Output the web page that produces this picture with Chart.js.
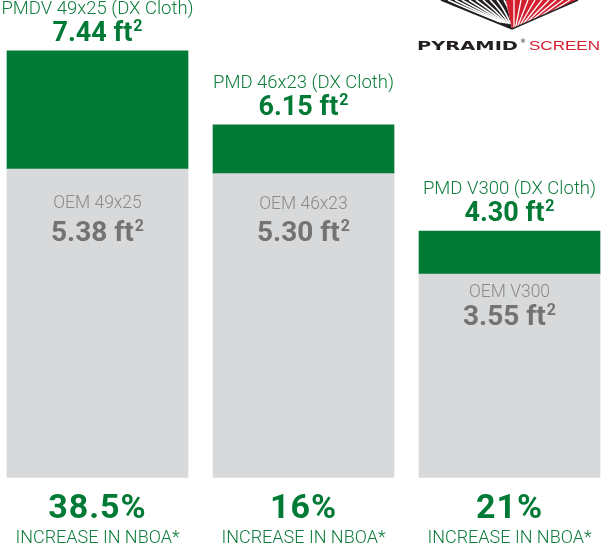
<!DOCTYPE html>
<html><head><meta charset="utf-8">
<script src="https://cdn.jsdelivr.net/npm/chart.js@4"></script>
<style>html,body{margin:0;padding:0;background:#fff;overflow:hidden}canvas{display:block}</style>
</head><body>
<canvas id="c" width="602" height="548"></canvas>
<script>
// ---- data ----
const positions = [0, 1, 2];
const pmdNames = ['PMDV 49x25 (DX Cloth)', 'PMD 46x23 (DX Cloth)', 'PMD V300 (DX Cloth)'];
const oemNames = ['OEM 49x25', 'OEM 46x23', 'OEM V300'];
const pmdArea = [7.44, 6.15, 4.30];
const oemArea = [5.38, 5.30, 3.55];
const increaseLabels = ['38.5%', '16%', '21%'];
const increaseCaption = 'INCREASE IN NBOA*';

// ---- style ----
const GREEN = '#017a36';
const GREEN_TXT = '#0f7d3c';
const GREY_BAR = '#d8d9da';
const GREY_LBL = '#8a8a8a';
const GREY_VAL = '#737373';
const oemLabelOffset = [39, 35, 23];
const oemValueOffset = [72, 67, 51];

function drawArea(ctx, txt, cx, baseline, size, supSize, color) {
  ctx.font = '700 ' + size + 'px Roboto';
  const w1 = ctx.measureText(txt).width;
  ctx.font = '700 ' + supSize + 'px Roboto';
  const w2 = ctx.measureText('2').width;
  const start = cx - (w1 + w2 + 1) / 2;
  ctx.fillStyle = color;
  ctx.textAlign = 'left';
  ctx.font = '700 ' + size + 'px Roboto';
  ctx.fillText(txt, start, baseline);
  ctx.font = '700 ' + supSize + 'px Roboto';
  ctx.fillText('2', start + w1 + 1, baseline - size * 0.36);
}

const labelPlugin = {
  id: 'labels',
  afterDatasetsDraw(chart) {
    const ctx = chart.ctx;
    const grey = chart.getDatasetMeta(0).data;
    const green = chart.getDatasetMeta(1).data;
    const bottom = chart.chartArea.bottom;
    ctx.save();
    ctx.textBaseline = 'alphabetic';
    positions.forEach((p, i) => {
      const x = green[i].x;
      const gTop = green[i].y;
      const oTop = grey[i].y;
      ctx.textAlign = 'center';
      ctx.fillStyle = GREEN_TXT;
      ctx.font = '300 18.5px Roboto';
      ctx.fillText(pmdNames[i], x, gTop - 37);
      drawArea(ctx, pmdArea[i].toFixed(2) + ' ft', x, gTop - 10, 27, 16, GREEN);

      ctx.textAlign = 'center';
      ctx.fillStyle = GREY_LBL;
      ctx.font = '300 17.5px Roboto';
      ctx.fillText(oemNames[i], x, oTop + oemLabelOffset[i]);
      drawArea(ctx, oemArea[i].toFixed(2) + ' ft', x, oTop + oemValueOffset[i], 28, 16, GREY_VAL);

      ctx.textAlign = 'center';
      ctx.fillStyle = GREEN;
      ctx.font = '700 34px Roboto';
      ctx.letterSpacing = '1px';
      ctx.fillText(increaseLabels[i], x, bottom + 40.5);
      ctx.letterSpacing = '0px';
      ctx.fillStyle = GREEN_TXT;
      ctx.font = '300 18px Roboto';
      ctx.fillText(increaseCaption, x, bottom + 65.5);
    });
    ctx.restore();
  },
  afterDraw(chart) {
    const ctx = chart.ctx;
    ctx.save();
    // pyramid graphic
    ctx.beginPath();
    ctx.moveTo(441, 0); ctx.lineTo(506, 0); ctx.lineTo(512, 29); ctx.closePath();
    ctx.fillStyle = '#231f20'; ctx.fill();
    ctx.save(); ctx.clip();
    ctx.strokeStyle = '#fff'; ctx.lineWidth = 1.6;
    for (let k = 0; k < 9; k++) {
      ctx.beginPath();
      ctx.moveTo(448 + k * 7, 0);
      ctx.quadraticCurveTo(470 + k * 5, 10, 500 + k * 1.5, 22 + k * 0.3);
      ctx.stroke();
    }
    ctx.restore();
    ctx.beginPath();
    ctx.moveTo(506, 0); ctx.lineTo(578, 0); ctx.lineTo(512, 29); ctx.closePath();
    ctx.fillStyle = '#d41f2f'; ctx.fill();
    ctx.save(); ctx.clip();
    ctx.strokeStyle = '#fff'; ctx.lineWidth = 1.3;
    for (let k = 0; k < 9; k++) {
      ctx.beginPath();
      ctx.moveTo(514 + k * 7, 0);
      ctx.lineTo(514 + k * 1.5, 28);
      ctx.stroke();
    }
    ctx.restore();
    ctx.beginPath();
    ctx.moveTo(441, 0); ctx.lineTo(512, 29); ctx.lineTo(578, 0);
    ctx.strokeStyle = '#231f20'; ctx.lineWidth = 1.5; ctx.stroke();
    // wordmark
    ctx.textBaseline = 'alphabetic';
    ctx.textAlign = 'left';
    ctx.fillStyle = '#231f20';
    ctx.font = '700 13px "DejaVu Sans"';
    const w = ctx.measureText('PYRAMID').width;
    ctx.save();
    ctx.translate(417, 50);
    ctx.scale(101 / w, 1);
    ctx.fillText('PYRAMID', 0, 0);
    ctx.restore();
    ctx.font = '400 6px "DejaVu Sans"';
    ctx.fillText('®', 520, 43);
    ctx.fillStyle = '#d41f2f';
    ctx.font = '400 13px "Liberation Sans"';
    const w3 = ctx.measureText('SCREEN').width;
    ctx.save();
    ctx.translate(529, 50);
    ctx.scale(71 / w3, 1);
    ctx.fillText('SCREEN', 0, 0);
    ctx.restore();
    ctx.restore();
  }
};

const greyData = positions.map((p, i) => ({ x: p, y: [0, oemArea[i]] }));
const greenData = positions.map((p, i) => ({ x: p, y: [oemArea[i], pmdArea[i]] }));

new Chart(document.getElementById('c'), {
  type: 'bar',
  data: {
    datasets: [
      { label: 'OEM', data: greyData, backgroundColor: GREY_BAR, borderWidth: 0 },
      { label: 'PMD', data: greenData, backgroundColor: GREEN, borderWidth: 0 }
    ]
  },
  options: {
    responsive: false,
    animation: false,
    devicePixelRatio: 1,
    grouped: false,
    barPercentage: 1,
    categoryPercentage: 1,
    maxBarThickness: 181,
    layout: { padding: { left: 0, right: 0, top: 0, bottom: 70.3 } },
    plugins: { legend: { display: false }, tooltip: { enabled: false } },
    scales: {
      x: { type: 'linear', display: false, offset: false, min: -97.5 / 206, max: 504.5 / 206,
           ticks: { stepSize: 1, includeBounds: false } },
      y: { display: false, min: 0, max: 477.7 / 57.38 }
    }
  },
  plugins: [labelPlugin]
});
</script>
</body></html>
